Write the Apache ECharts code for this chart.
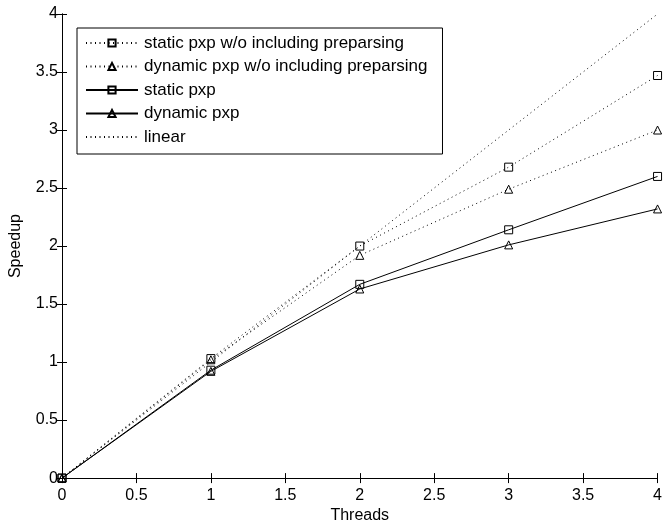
<!DOCTYPE html>
<html>
<head>
<meta charset="utf-8">
<script src="https://cdn.jsdelivr.net/npm/echarts@6/dist/echarts.min.js"></script>
<style>html,body{margin:0;padding:0;background:#fff;}#c{width:665px;height:529px;}</style>
</head>
<body>
<div id="c"></div>
<script>
const threads = [0, 1, 2, 3, 4];
const staticNoPre = [0, 1.03, 2.00, 2.68, 3.47];
const dynamicNoPre = [0, 1.02, 1.92, 2.49, 3.00];
const staticPxp = [0, 0.93, 1.67, 2.14, 2.60];
const dynamicPxp = [0, 0.92, 1.63, 2.01, 2.32];
const linear = [0, 4];
const linearX = [0, 4];
const seriesNames = ['static pxp w/o including preparsing', 'dynamic pxp w/o including preparsing', 'static pxp', 'dynamic pxp', 'linear'];

const FONT = 'Liberation Sans';
const pairs = (xs, ys) => xs.map((x, i) => [x, ys[i]]);
const dotted = [1, 3.5];

function mk(name, data, symbol, dashed) {
  return {
    name: name,
    type: 'line',
    data: data,
    symbol: symbol,
    symbolSize: 8,
    showSymbol: symbol !== 'none',
    animation: false,
    lineStyle: { color: '#000', width: 1, type: dashed ? dotted : 'solid' },
    itemStyle: { color: 'transparent', borderColor: symbol === 'none' ? 'transparent' : '#000', borderWidth: 1 },
    emphasis: { disabled: true }
  };
}

const chart = echarts.init(document.getElementById('c'));
const axisCommon = {
  type: 'value', min: 0, max: 4, interval: 0.5,
  axisLine: { show: true, lineStyle: { color: '#000', width: 1 } },
  axisTick: { show: true, inside: true, length: 5, lineStyle: { color: '#000' } },
  splitLine: { show: false },
  axisLabel: { color: '#000', fontFamily: FONT, fontSize: 16 }
};
chart.setOption({
  backgroundColor: '#fff',
  animation: false,
  grid: { left: 62, right: 6, top: 14, bottom: 44, containLabel: false },
  xAxis: [
    Object.assign({}, axisCommon, {
      position: 'bottom',
      name: 'Threads', nameLocation: 'middle', nameGap: 27,
      nameTextStyle: { color: '#000', fontFamily: FONT, fontSize: 16 },
      axisLabel: { color: '#000', fontFamily: FONT, fontSize: 16, margin: 9 }
    }),
    Object.assign({}, axisCommon, { position: 'top', axisLabel: { show: false } })
  ],
  yAxis: [
    Object.assign({}, axisCommon, {
      position: 'left',
      name: 'Speedup', nameLocation: 'middle', nameGap: 38,
      nameTextStyle: { color: '#000', fontFamily: FONT, fontSize: 16 },
      axisLabel: { color: '#000', fontFamily: FONT, fontSize: 16, margin: 4 }
    }),
    Object.assign({}, axisCommon, { position: 'right', axisLabel: { show: false } })
  ],
  legend: {
    orient: 'vertical',
    left: 77, top: 28,
    data: seriesNames,
    itemWidth: 52, itemHeight: 9, itemGap: 6.5,
    padding: [6.5, 15, 8.5, 8],
    borderColor: '#000', borderWidth: 1,
    backgroundColor: '#fff',
    textStyle: { color: '#000', fontFamily: FONT, fontSize: 17, padding: [0, 0, 0, 1] },
    selectedMode: false
  },
  series: [
    mk(seriesNames[0], pairs(threads, staticNoPre), 'rect', true),
    mk(seriesNames[1], pairs(threads, dynamicNoPre), 'triangle', true),
    mk(seriesNames[2], pairs(threads, staticPxp), 'rect', false),
    mk(seriesNames[3], pairs(threads, dynamicPxp), 'triangle', false),
    mk(seriesNames[4], pairs(linearX, linear), 'none', true)
  ]
});
</script>
</body>
</html>
